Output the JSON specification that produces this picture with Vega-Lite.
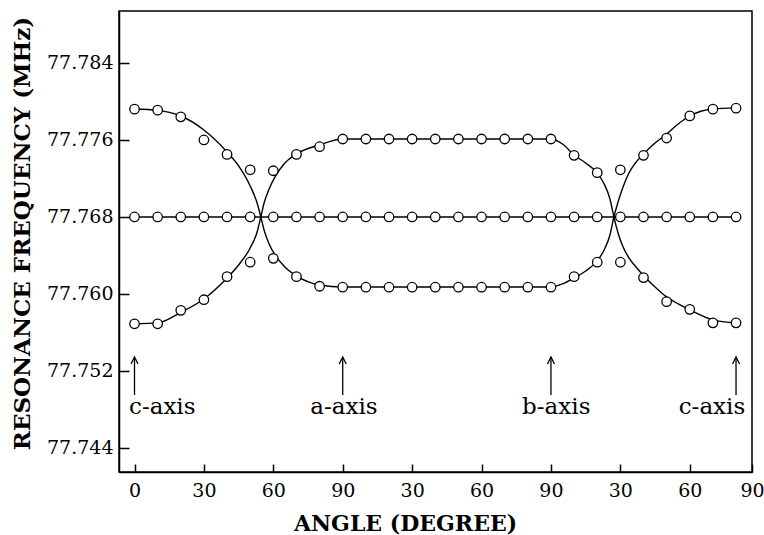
{
  "$schema": "https://vega.github.io/schema/vega-lite/v6.json",
  "width": 633,
  "height": 461,
  "autosize": "none",
  "padding": {"left": 119, "top": 11, "right": 12, "bottom": 63},
  "background": "white",
  "config": {
    "view": {"stroke": "black", "strokeWidth": 1.5},
    "font": "DejaVu Serif"
  },
  "datasets": {
    "points": [
      {"angle": 0, "freq": 77.7792}, {"angle": 10, "freq": 77.7791}, {"angle": 20, "freq": 77.7784}, {"angle": 30, "freq": 77.7760},
      {"angle": 40, "freq": 77.7745}, {"angle": 50, "freq": 77.7729}, {"angle": 60, "freq": 77.7728}, {"angle": 70, "freq": 77.7745},
      {"angle": 80, "freq": 77.7753}, {"angle": 90, "freq": 77.7761}, {"angle": 100, "freq": 77.7761}, {"angle": 110, "freq": 77.7761},
      {"angle": 120, "freq": 77.7761}, {"angle": 130, "freq": 77.7761}, {"angle": 140, "freq": 77.7761}, {"angle": 150, "freq": 77.7761},
      {"angle": 160, "freq": 77.7761}, {"angle": 170, "freq": 77.7761}, {"angle": 180, "freq": 77.7761}, {"angle": 190, "freq": 77.7744},
      {"angle": 200, "freq": 77.7726}, {"angle": 210, "freq": 77.7729}, {"angle": 220, "freq": 77.7744}, {"angle": 230, "freq": 77.7762},
      {"angle": 240, "freq": 77.7785}, {"angle": 250, "freq": 77.7792}, {"angle": 260, "freq": 77.7793},
      {"angle": 0, "freq": 77.768}, {"angle": 10, "freq": 77.768}, {"angle": 20, "freq": 77.768}, {"angle": 30, "freq": 77.768},
      {"angle": 40, "freq": 77.768}, {"angle": 50, "freq": 77.768}, {"angle": 60, "freq": 77.768}, {"angle": 70, "freq": 77.768},
      {"angle": 80, "freq": 77.768}, {"angle": 90, "freq": 77.768}, {"angle": 100, "freq": 77.768}, {"angle": 110, "freq": 77.768},
      {"angle": 120, "freq": 77.768}, {"angle": 130, "freq": 77.768}, {"angle": 140, "freq": 77.768}, {"angle": 150, "freq": 77.768},
      {"angle": 160, "freq": 77.768}, {"angle": 170, "freq": 77.768}, {"angle": 180, "freq": 77.768}, {"angle": 190, "freq": 77.768},
      {"angle": 200, "freq": 77.768}, {"angle": 210, "freq": 77.768}, {"angle": 220, "freq": 77.768}, {"angle": 230, "freq": 77.768},
      {"angle": 240, "freq": 77.768}, {"angle": 250, "freq": 77.768}, {"angle": 260, "freq": 77.768},
      {"angle": 0, "freq": 77.7569}, {"angle": 10, "freq": 77.7569}, {"angle": 20, "freq": 77.7583}, {"angle": 30, "freq": 77.7594},
      {"angle": 40, "freq": 77.7618}, {"angle": 50, "freq": 77.7633}, {"angle": 60, "freq": 77.7637}, {"angle": 70, "freq": 77.7618},
      {"angle": 80, "freq": 77.7608}, {"angle": 90, "freq": 77.7607}, {"angle": 100, "freq": 77.7607}, {"angle": 110, "freq": 77.7607},
      {"angle": 120, "freq": 77.7607}, {"angle": 130, "freq": 77.7607}, {"angle": 140, "freq": 77.7607}, {"angle": 150, "freq": 77.7607},
      {"angle": 160, "freq": 77.7607}, {"angle": 170, "freq": 77.7607}, {"angle": 180, "freq": 77.7607}, {"angle": 190, "freq": 77.7618},
      {"angle": 200, "freq": 77.7633}, {"angle": 210, "freq": 77.7633}, {"angle": 220, "freq": 77.7617}, {"angle": 230, "freq": 77.7592},
      {"angle": 240, "freq": 77.7584}, {"angle": 250, "freq": 77.7570}, {"angle": 260, "freq": 77.7570}
    ],
    "curves": [
      {"curve": "A", "angle": 0, "freq": 77.77922}, {"curve": "A", "angle": 10, "freq": 77.77907}, {"curve": "A", "angle": 20, "freq": 77.77849},
      {"curve": "A", "angle": 30, "freq": 77.77704}, {"curve": "A", "angle": 40, "freq": 77.77475}, {"curve": "A", "angle": 45, "freq": 77.7733},
      {"curve": "A", "angle": 50, "freq": 77.77122}, {"curve": "A", "angle": 53, "freq": 77.76945}, {"curve": "A", "angle": 54.6, "freq": 77.768},
      {"curve": "A", "angle": 56, "freq": 77.76665}, {"curve": "A", "angle": 58, "freq": 77.7653}, {"curve": "A", "angle": 61, "freq": 77.76395},
      {"curve": "A", "angle": 65, "freq": 77.7628}, {"curve": "A", "angle": 70, "freq": 77.76187}, {"curve": "A", "angle": 80, "freq": 77.76093},
      {"curve": "A", "angle": 90, "freq": 77.76073}, {"curve": "A", "angle": 180, "freq": 77.76073}, {"curve": "A", "angle": 185, "freq": 77.76104},
      {"curve": "A", "angle": 190, "freq": 77.76166}, {"curve": "A", "angle": 195, "freq": 77.76239}, {"curve": "A", "angle": 200, "freq": 77.76343},
      {"curve": "A", "angle": 203, "freq": 77.76457}, {"curve": "A", "angle": 205.5, "freq": 77.76613}, {"curve": "A", "angle": 207.2, "freq": 77.768},
      {"curve": "A", "angle": 209, "freq": 77.76956}, {"curve": "A", "angle": 211, "freq": 77.77101}, {"curve": "A", "angle": 213.5, "freq": 77.77247},
      {"curve": "A", "angle": 216.5, "freq": 77.77361}, {"curve": "A", "angle": 220, "freq": 77.77455}, {"curve": "A", "angle": 225, "freq": 77.77569},
      {"curve": "A", "angle": 230, "freq": 77.77662}, {"curve": "A", "angle": 235, "freq": 77.77766}, {"curve": "A", "angle": 240, "freq": 77.77849},
      {"curve": "A", "angle": 250, "freq": 77.77922}, {"curve": "A", "angle": 260, "freq": 77.77933},
      {"curve": "B", "angle": 0, "freq": 77.75688}, {"curve": "B", "angle": 10, "freq": 77.75699}, {"curve": "B", "angle": 20, "freq": 77.75809},
      {"curve": "B", "angle": 30, "freq": 77.75948}, {"curve": "B", "angle": 40, "freq": 77.76166}, {"curve": "B", "angle": 45, "freq": 77.76301},
      {"curve": "B", "angle": 50, "freq": 77.76478}, {"curve": "B", "angle": 53, "freq": 77.76644}, {"curve": "B", "angle": 54.6, "freq": 77.768},
      {"curve": "B", "angle": 56, "freq": 77.76945}, {"curve": "B", "angle": 58, "freq": 77.77081}, {"curve": "B", "angle": 61, "freq": 77.77226},
      {"curve": "B", "angle": 65, "freq": 77.77361}, {"curve": "B", "angle": 70, "freq": 77.77455}, {"curve": "B", "angle": 80, "freq": 77.77548},
      {"curve": "B", "angle": 90, "freq": 77.7761}, {"curve": "B", "angle": 180, "freq": 77.7761}, {"curve": "B", "angle": 185, "freq": 77.77558},
      {"curve": "B", "angle": 190, "freq": 77.77444}, {"curve": "B", "angle": 195, "freq": 77.77361}, {"curve": "B", "angle": 200, "freq": 77.77257},
      {"curve": "B", "angle": 203, "freq": 77.77143}, {"curve": "B", "angle": 205.5, "freq": 77.76987}, {"curve": "B", "angle": 207.2, "freq": 77.768},
      {"curve": "B", "angle": 209, "freq": 77.76634}, {"curve": "B", "angle": 211, "freq": 77.76499}, {"curve": "B", "angle": 214, "freq": 77.76364},
      {"curve": "B", "angle": 217.5, "freq": 77.7626}, {"curve": "B", "angle": 221, "freq": 77.76166}, {"curve": "B", "angle": 225, "freq": 77.76073},
      {"curve": "B", "angle": 230, "freq": 77.75969}, {"curve": "B", "angle": 235, "freq": 77.75896}, {"curve": "B", "angle": 240, "freq": 77.75834},
      {"curve": "B", "angle": 250, "freq": 77.7573}, {"curve": "B", "angle": 260, "freq": 77.75699},
      {"curve": "M", "angle": 0, "freq": 77.768}, {"curve": "M", "angle": 260, "freq": 77.768}
    ],
    "arrows": [
      {"angle": 0, "lo": 77.7495, "hi": 77.75345},
      {"angle": 90, "lo": 77.7495, "hi": 77.75345},
      {"angle": 180, "lo": 77.7495, "hi": 77.75345},
      {"angle": 260, "lo": 77.7495, "hi": 77.75345}
    ],
    "labels": [
      {"angle": 12, "freq": 77.7475, "text": "c-axis"},
      {"angle": 90.5, "freq": 77.7475, "text": "a-axis"},
      {"angle": 182.3, "freq": 77.7475, "text": "b-axis"},
      {"angle": 249.6, "freq": 77.7475, "text": "c-axis"}
    ]
  },
  "layer": [
    {
      "data": {"name": "curves"},
      "mark": {"type": "line", "interpolate": "monotone", "color": "black", "strokeWidth": 1.4},
      "encoding": {
        "x": {
          "field": "angle", "type": "quantitative",
          "scale": {"domain": [-6.7, 266.9], "nice": false, "zero": false},
          "axis": {
            "values": [0, 30, 60, 90, 120, 150, 180, 210, 240, 266.9],
            "labelExpr": "datum.value > 260 ? '90' : datum.value == 0 ? '0' : (datum.value % 90 == 0 ? '90' : '' + (datum.value % 90))",
            "tickSize": -8, "tickColor": "black", "tickWidth": 1.5,
            "domainColor": "black", "domainWidth": 1.5, "grid": false,
            "labelFont": "DejaVu Serif", "labelFontSize": 19, "labelColor": "black",
            "labelPadding": 17, "labelOverlap": false, "labelFlush": false,
            "title": "ANGLE (DEGREE)", "titleFont": "DejaVu Serif", "titleFontSize": 22,
            "titleFontWeight": "bold", "titleColor": "black",
            "titleX": 286, "titleY": 58, "titleBaseline": "alphabetic"
          }
        },
        "y": {
          "field": "freq", "type": "quantitative",
          "scale": {"domain": [77.7415, 77.7894], "nice": false, "zero": false},
          "axis": {
            "values": [77.744, 77.752, 77.76, 77.768, 77.776, 77.784],
            "format": ".3f",
            "tickSize": -10, "tickColor": "black", "tickWidth": 1.5,
            "domainColor": "black", "domainWidth": 1.5, "grid": false,
            "labelFont": "DejaVu Serif", "labelFontSize": 19, "labelColor": "black",
            "labelPadding": 16,
            "title": "RESONANCE FREQUENCY (MHz)", "titleFont": "DejaVu Serif", "titleFontSize": 23,
            "titleFontWeight": "bold", "titleColor": "black", "titlePadding": 12, "titleY": 222
          }
        },
        "detail": {"field": "curve"}
      }
    },
    {
      "data": {"name": "points"},
      "mark": {"type": "point", "shape": "circle", "filled": true, "fill": "white", "stroke": "black", "strokeWidth": 1.3, "size": 90, "opacity": 1},
      "encoding": {
        "x": {"field": "angle", "type": "quantitative"},
        "y": {"field": "freq", "type": "quantitative"}
      }
    },
    {
      "data": {"name": "arrows"},
      "mark": {"type": "rule", "color": "black", "strokeWidth": 1.3},
      "encoding": {
        "x": {"field": "angle", "type": "quantitative"},
        "y": {"field": "lo", "type": "quantitative"},
        "y2": {"field": "hi"}
      }
    },
    {
      "data": {"name": "arrows"},
      "mark": {"type": "point", "shape": "M-0.5,1L0,0L0.5,1", "filled": false, "stroke": "black", "strokeWidth": 1.3, "size": 196, "opacity": 1},
      "encoding": {
        "x": {"field": "angle", "type": "quantitative"},
        "y": {"field": "hi", "type": "quantitative"}
      }
    },
    {
      "data": {"name": "labels"},
      "mark": {"type": "text", "font": "DejaVu Serif", "fontSize": 23, "color": "black", "align": "center", "baseline": "alphabetic"},
      "encoding": {
        "x": {"field": "angle", "type": "quantitative"},
        "y": {"field": "freq", "type": "quantitative"},
        "text": {"field": "text"}
      }
    }
  ]
}
